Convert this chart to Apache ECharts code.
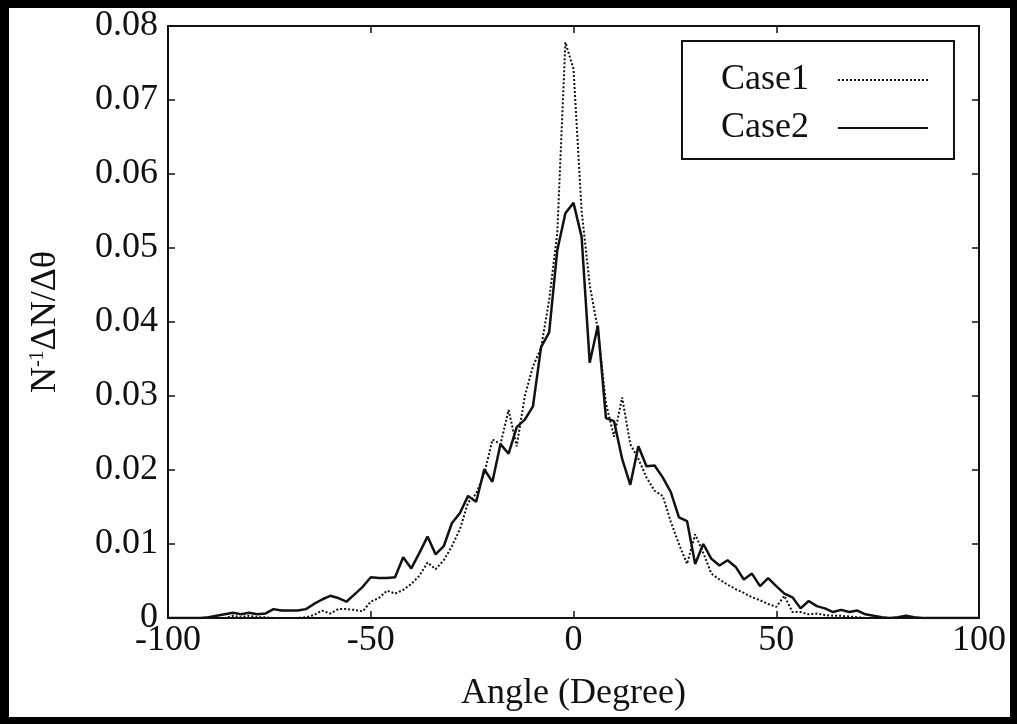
<!DOCTYPE html>
<html>
<head>
<meta charset="utf-8">
<script src="https://cdn.jsdelivr.net/npm/echarts@6/dist/echarts.min.js"></script>
<style>
  html, body { margin: 0; padding: 0; background: #000; width: 1017px; height: 724px; overflow: hidden; }
  #chart { position: absolute; left: 9px; top: 8px; width: 1001px; height: 709px; background: #fff; }
</style>
</head>
<body>
<div id="chart"></div>
<script>
const angles = [-100,-98,-96,-94,-92,-90,-88,-86,-84,-82,
  -80,-78,-76,-74,-72,-70,-68,-66,-64,-62,
  -60,-58,-56,-54,-52,-50,-48,-46,-44,-42,
  -40,-38,-36,-34,-32,-30,-28,-26,-24,-22,
  -20,-18,-16,-14,-12,-10,-8,-6,-4,-2,
  0,2,4,6,8,10,12,14,16,18,
  20,22,24,26,28,30,32,34,36,38,
  40,42,44,46,48,50,52,54,56,58,
  60,62,64,66,68,70,72,74,76,78,
  80,82,84,86,88,90,92,94,96,98,
  100];

const case1 = [0,0,0,0,0,0,0,0,0.0003,0.0001,
  0.0003,0.0001,0.0001,0,0,0,0,0.0001,0.0004,0.001,
  0.0006,0.0012,0.0012,0.0011,0.0009,0.0022,0.0027,0.0037,0.0033,0.0038,
  0.0046,0.0057,0.0075,0.0066,0.0078,0.0097,0.012,0.0156,0.0168,0.0195,
  0.0241,0.0235,0.0281,0.0232,0.030,0.034,0.0365,0.043,0.052,0.0778,
  0.0742,0.055,0.045,0.039,0.029,0.0245,0.0298,0.0235,0.0215,0.019,
  0.0172,0.0165,0.013,0.010,0.0073,0.0113,0.0088,0.006,0.0052,0.0045,
  0.0039,0.0034,0.0028,0.0024,0.0019,0.0015,0.003,0.0008,0.0008,0.0005,
  0.0006,0.0004,0.0003,0.0003,0.0002,0.0001,0,0,0,0,
  0,0,0,0,0,0,0,0,0,0,
  0];

const case2 = [0,0,0,0,0,0.0001,0.0003,0.0005,0.0007,0.0005,
  0.0007,0.0005,0.0006,0.0012,0.001,0.001,0.001,0.0012,0.0019,0.0025,
  0.003,0.0027,0.0022,0.0032,0.0042,0.0055,0.0054,0.0054,0.0055,0.0082,
  0.0067,0.0088,0.011,0.0086,0.0097,0.0128,0.0142,0.0165,0.0157,0.0201,
  0.0184,0.0235,0.0222,0.0258,0.0268,0.0286,0.0366,0.0386,0.0497,0.0547,
  0.0561,0.0515,0.0345,0.0395,0.027,0.0266,0.0215,0.018,0.0232,0.0205,
  0.0206,0.019,0.017,0.0136,0.0131,0.0073,0.010,0.008,0.0071,0.0078,
  0.0069,0.0052,0.006,0.0043,0.0054,0.0043,0.0033,0.0028,0.0013,0.0023,
  0.0016,0.0013,0.0008,0.0011,0.0008,0.001,0.0005,0.0003,0.0001,0,
  0.0001,0.0003,0.0001,0,0,0,0,0,0,0,
  0];

const seriesNames = ['Case1', 'Case2'];
const xTitle = 'Angle (Degree)';

const FONT = "'Liberation Serif', 'Times New Roman', serif";
const INK = '#111';

function pairs(ys) { return angles.map((a, i) => [a, ys[i]]); }

const chart = echarts.init(document.getElementById('chart'), null, { renderer: 'canvas' });

const axisLine = { show: true, onZero: false, lineStyle: { color: INK, width: 2 } };
const axisTick = { show: true, inside: true, length: 7, lineStyle: { color: INK, width: 1.5 } };

chart.setOption({
  animation: false,
  backgroundColor: '#fff',
  grid: { left: 159, right: 31, top: 18, bottom: 98, containLabel: false },
  legend: {
    orient: 'vertical',
    left: 673, top: 33,
    align: 'right',
    selectedMode: false,
    itemWidth: 90, itemHeight: 14, itemGap: 12,
    padding: [21, 25, 13, 39],
    borderColor: INK, borderWidth: 2,
    itemStyle: { color: 'rgba(0,0,0,0)', borderWidth: 0, opacity: 0 },
    textStyle: { fontFamily: FONT, fontSize: 36, color: INK, padding: [0, 24, 0, 0] },
    data: seriesNames
  },
  xAxis: [
    {
      type: 'value', min: -100, max: 100, interval: 50, position: 'bottom',
      axisLine, axisTick, splitLine: { show: false },
      axisLabel: { fontFamily: FONT, fontSize: 36, color: INK, margin: 5 },
      name: xTitle, nameLocation: 'middle', nameGap: 58,
      nameTextStyle: { fontFamily: FONT, fontSize: 36, color: INK }
    },
    {
      type: 'value', min: -100, max: 100, interval: 50, position: 'top',
      axisLine, axisTick, splitLine: { show: false }, axisLabel: { show: false }
    }
  ],
  yAxis: [
    {
      type: 'value', min: 0, max: 0.08, interval: 0.01, position: 'left',
      axisLine, axisTick, splitLine: { show: false },
      axisLabel: { fontFamily: FONT, fontSize: 36, color: INK, margin: 10 },
      name: '{a|N}{b|-1}{a|ΔN/Δθ}', nameLocation: 'middle', nameGap: 104,
      nameTextStyle: {
        fontFamily: FONT, fontSize: 36, color: INK,
        rich: {
          a: { fontFamily: FONT, fontSize: 36, color: INK, lineHeight: 36 },
          b: { fontFamily: FONT, fontSize: 20, color: INK, verticalAlign: 'top', lineHeight: 36 }
        }
      }
    },
    {
      type: 'value', min: 0, max: 0.08, interval: 0.01, position: 'right',
      axisLine, axisTick, splitLine: { show: false }, axisLabel: { show: false }
    }
  ],
  series: [
    {
      name: seriesNames[0], type: 'line', data: pairs(case1),
      symbol: 'none', color: INK,
      lineStyle: { color: INK, width: 2, type: [2, 2] }
    },
    {
      name: seriesNames[1], type: 'line', data: pairs(case2),
      symbol: 'none', color: INK,
      lineStyle: { color: INK, width: 2.5, type: 'solid' }
    }
  ]
});
</script>
</body>
</html>
